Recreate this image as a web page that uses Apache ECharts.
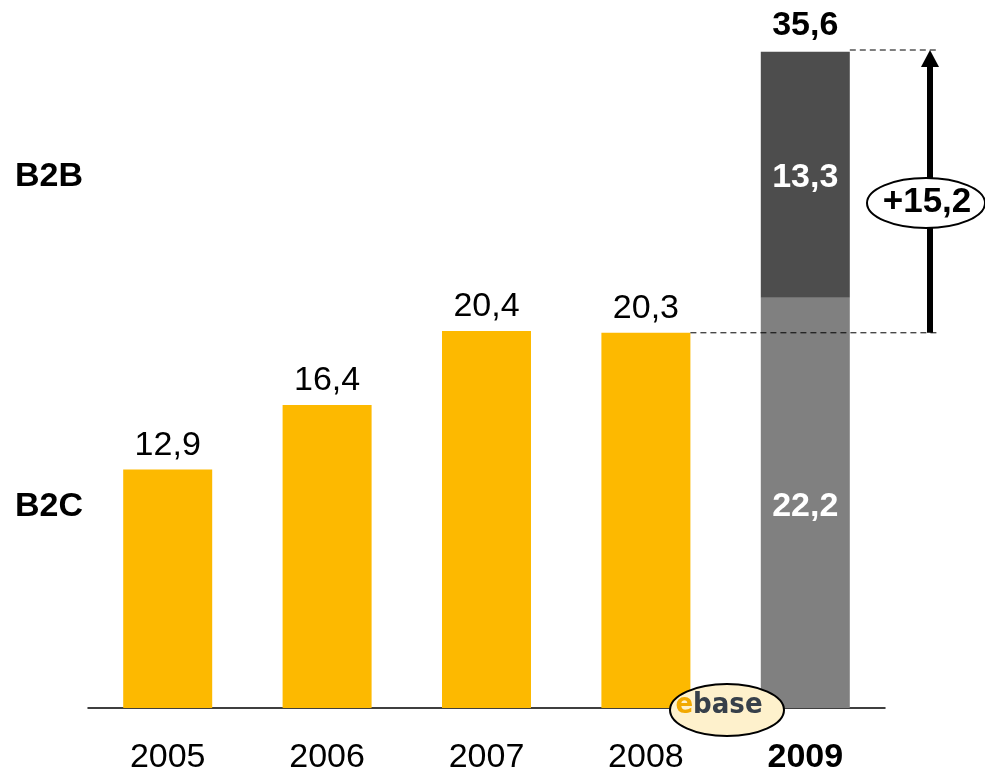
<!DOCTYPE html>
<html>
<head>
<meta charset="utf-8">
<script src="https://cdn.jsdelivr.net/npm/echarts@6/dist/echarts.min.js"></script>
<style>html,body{margin:0;padding:0;background:#fff}#c{width:985px;height:775px}</style>
</head>
<body>
<div id="c"></div>
<script>
var years = ['2005', '2006', '2007', '2008', '2009'];
var b2c = [12.9, 16.4, 20.4, 20.3, 22.2];
var b2b = [null, null, null, null, 13.3];
var totals = [null, null, null, null, 35.6];
var growthLabel = '+15,2';
var segmentNames = ['B2B', 'B2C'];

var FONT = '"Liberation Sans", Arial, sans-serif';
var FS = 34;
var YELLOW = '#FDB900';
var fmt = function (v) { return String(v).replace('.', ','); };

var chart = echarts.init(document.getElementById('c'));
var option = {
  animation: false,
  grid: { left: 88, right: 100, top: 50, bottom: 65 },
  xAxis: {
    type: 'category',
    data: years,
    axisLine: { lineStyle: { color: '#000', width: 1.5 } },
    axisTick: { show: false },
    axisLabel: {
      interval: 0,
      hideOverlap: false,
      margin: 33,
      fontFamily: FONT,
      fontSize: FS,
      color: '#000',
      formatter: function (v, i) { return i === years.length - 1 ? '{b|' + v + '}' : v; },
      rich: { b: { fontFamily: FONT, fontSize: FS, fontWeight: 'bold', color: '#000' } }
    }
  },
  yAxis: { type: 'value', min: 0, max: 35.6, show: false, splitLine: { show: false } },
  series: [
    {
      name: 'B2C', type: 'bar', stack: 's', barWidth: 89,
      data: b2c.map(function (v, i) {
        var last = i === b2c.length - 1;
        return {
          value: v,
          itemStyle: { color: last ? '#808080' : YELLOW },
          label: last ? { position: 'inside', offset: [0, 4], color: '#fff', fontWeight: 'bold' } : { position: 'top', color: '#000', fontWeight: 'normal' }
        };
      }),
      label: { show: true, fontFamily: FONT, fontSize: FS, distance: 7, formatter: function (p) { return fmt(p.value); } }
    },
    {
      name: 'B2B', type: 'bar', stack: 's', barWidth: 89,
      itemStyle: { color: '#4D4D4D' },
      data: b2b,
      label: { show: true, position: 'inside', offset: [0, 3], color: '#fff', fontWeight: 'bold', fontFamily: FONT, fontSize: FS, formatter: function (p) { return fmt(p.value); } }
    },
    {
      name: 'Total', type: 'scatter', symbolSize: 0, data: totals,
      itemStyle: { opacity: 1, color: '#000' },
      label: { show: true, position: 'top', distance: 7, color: '#000', fontWeight: 'bold', fontFamily: FONT, fontSize: FS, formatter: function (p) { return fmt(p.value); } }
    }
  ]
};
chart.setOption(option);

var n = years.length;
var halfBar = 44.5;
var p09 = chart.convertToPixel({ gridIndex: 0 }, [n - 1, totals[n - 1]]);
var p08 = chart.convertToPixel({ gridIndex: 0 }, [n - 2, b2c[n - 2]]);
var yB2B = chart.convertToPixel({ gridIndex: 0 }, [0, b2c[n - 1] + b2b[n - 1] / 2])[1];
var yB2C = chart.convertToPixel({ gridIndex: 0 }, [0, b2c[n - 1] / 2])[1];
var arrowX = 930, dashEnd = 937;

chart.setOption({
  graphic: [
    { type: 'text', z: 100, left: 15, top: yB2B - 15, style: { text: segmentNames[0], font: 'bold ' + FS + 'px ' + FONT, fill: '#000' } },
    { type: 'text', z: 100, left: 15, top: yB2C - 13, style: { text: segmentNames[1], font: 'bold ' + FS + 'px ' + FONT, fill: '#000' } },
    { type: 'line', z: 100, shape: { x1: p09[0] + halfBar, y1: p09[1], x2: dashEnd, y2: p09[1] }, style: { stroke: '#000', lineWidth: 1, lineDash: [6, 4] } },
    { type: 'line', z: 100, shape: { x1: p08[0] + halfBar, y1: p08[1], x2: dashEnd, y2: p08[1] }, style: { stroke: '#000', lineWidth: 1, lineDash: [6, 4] } },
    { type: 'line', z: 100, shape: { x1: arrowX, y1: p08[1], x2: arrowX, y2: p09[1] + 14 }, style: { stroke: '#000', lineWidth: 6 } },
    { type: 'polygon', z: 100, shape: { points: [[arrowX, p09[1]], [arrowX - 9, p09[1] + 17], [arrowX + 9, p09[1] + 17]] }, style: { fill: '#000' } },
    { type: 'ellipse', z: 101, shape: { cx: 926, cy: 203, rx: 59, ry: 25 }, style: { fill: '#fff', stroke: '#000', lineWidth: 2 } },
    { type: 'text', z: 102, x: 927, y: 202, style: { text: growthLabel, font: 'bold 35px ' + FONT, fill: '#000', align: 'center', verticalAlign: 'middle' } },
    { type: 'ellipse', z: 101, shape: { cx: 727, cy: 710, rx: 57, ry: 26 }, style: { fill: '#FEF1CC', stroke: '#000', lineWidth: 2 } },
    { type: 'text', z: 102, x: 719, y: 705, style: {
        text: '{e|e}{b|base}', align: 'center', verticalAlign: 'middle',
        rich: {
          e: { font: 'bold 29px "DejaVu Sans Condensed", "DejaVu Sans", sans-serif', fill: '#F2A900' },
          b: { font: 'bold 29px "DejaVu Sans Condensed", "DejaVu Sans", sans-serif', fill: '#37404A' }
        }
      } }
  ]
});
</script>
</body>
</html>
